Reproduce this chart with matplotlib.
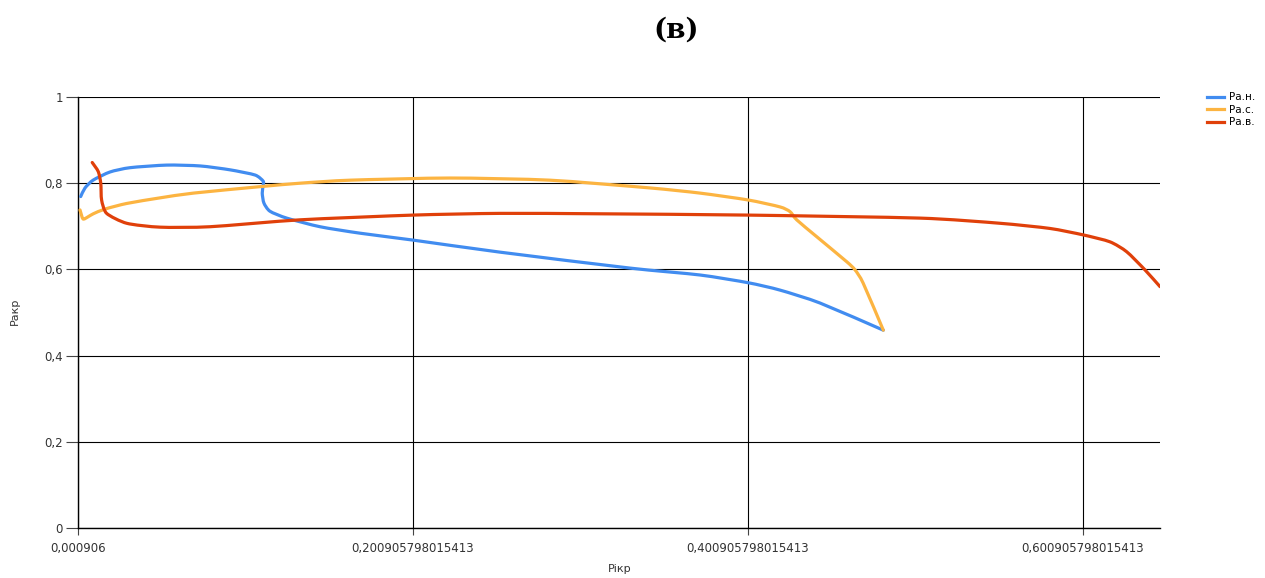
import matplotlib
matplotlib.use("Agg")
import matplotlib.pyplot as plt
import numpy as np
from matplotlib.path import Path
from matplotlib.patches import PathPatch
from matplotlib.lines import Line2D
from matplotlib.ticker import FixedLocator, FixedFormatter

# Series: critical ratio curves
blue_x = [0.0025, 0.0051, 0.0099, 0.0200, 0.0320, 0.0539, 0.0739, 0.0917, 0.1066,
          0.1114, 0.1115, 0.1109, 0.1119, 0.1155, 0.1255, 0.1454, 0.1693, 0.2009,
          0.2529, 0.3305, 0.3723, 0.4011, 0.4200, 0.4439, 0.4817]
blue_y = [0.769, 0.789, 0.807, 0.826, 0.836, 0.842, 0.840, 0.831, 0.819,
          0.805, 0.796, 0.777, 0.754, 0.735, 0.719, 0.699, 0.684, 0.668,
          0.640, 0.603, 0.587, 0.569, 0.552, 0.522, 0.459]

orange_x = [0.0021, 0.0039, 0.0069, 0.0100, 0.0170, 0.0300, 0.0499, 0.0698, 0.1096,
            0.1334, 0.1633, 0.2230, 0.2827, 0.3424, 0.3723, 0.4011, 0.4200, 0.4260,
            0.4300, 0.4419, 0.4598, 0.4648, 0.4697, 0.4817]
orange_y = [0.738, 0.717, 0.722, 0.729, 0.740, 0.753, 0.766, 0.777, 0.792,
            0.800, 0.807, 0.812, 0.807, 0.789, 0.777, 0.761, 0.745, 0.734,
            0.715, 0.676, 0.618, 0.599, 0.568, 0.459]

red_x = [0.0094, 0.0130, 0.0145, 0.0150, 0.0180, 0.0300, 0.0499, 0.0797, 0.1334,
         0.2009, 0.2529, 0.3126, 0.4009, 0.5036, 0.5514, 0.5812, 0.6011, 0.6170,
         0.6270, 0.6379, 0.6469]
red_y = [0.848, 0.827, 0.800, 0.761, 0.730, 0.707, 0.698, 0.699, 0.715,
         0.726, 0.730, 0.729, 0.726, 0.719, 0.707, 0.695, 0.680, 0.664,
         0.641, 0.599, 0.560]

series_names = ["Ра.н.", "Ра.с.", "Ра.в."]
series_colors = ["#418CF0", "#FCB441", "#E0400A"]

x_ticks = [0.000906, 0.200905798015413, 0.400905798015413, 0.600905798015413]
x_tick_labels = ["0,000906", "0,200905798015413", "0,400905798015413", "0,600905798015413"]
y_ticks = [0, 0.2, 0.4, 0.6, 0.8, 1]
y_tick_labels = ["0", "0,2", "0,4", "0,6", "0,8", "1"]


def spline_path(xs, ys, tension=0.35):
    """Cardinal spline through the data points as cubic Bezier segments."""
    pts = np.column_stack([xs, ys]).astype(float)
    n = len(pts)
    verts = [pts[0]]
    codes = [Path.MOVETO]
    for i in range(n - 1):
        p0 = pts[i - 1] if i > 0 else pts[i]
        p1 = pts[i]
        p2 = pts[i + 1]
        p3 = pts[i + 2] if i + 2 < n else pts[i + 1]
        c1 = p1 + (p2 - p0) * tension / 3.0
        c2 = p2 - (p3 - p1) * tension / 3.0
        verts.extend([c1, c2, p2])
        codes.extend([Path.CURVE4] * 3)
    return Path(verts, codes)


fig = plt.figure(figsize=(12.65, 5.78), dpi=100)
ax = fig.add_axes([78 / 1265, 1 - 528 / 578, (1160 - 78) / 1265, (528 - 97) / 578])

handles = []
for xs, ys, name, col in zip([blue_x, orange_x, red_x], [blue_y, orange_y, red_y],
                             series_names, series_colors):
    patch = PathPatch(spline_path(xs, ys), facecolor="none", edgecolor=col, lw=2.3,
                      capstyle="round", joinstyle="round", zorder=3)
    ax.add_patch(patch)
    handles.append(Line2D([], [], color=col, lw=2.3, label=name))

ax.set_xlim(0.000906, 0.6469)
ax.set_ylim(0, 1)
ax.xaxis.set_major_locator(FixedLocator(x_ticks))
ax.xaxis.set_major_formatter(FixedFormatter(x_tick_labels))
ax.yaxis.set_major_locator(FixedLocator(y_ticks))
ax.yaxis.set_major_formatter(FixedFormatter(y_tick_labels))

ax.grid(True, color="black", lw=0.8, zorder=1)
for side in ["top", "right"]:
    ax.spines[side].set_visible(False)
for side in ["left", "bottom"]:
    ax.spines[side].set_color("black")
    ax.spines[side].set_linewidth(1.0)

ax.tick_params(axis="y", length=9, width=0.8, color="#444444", labelsize=8.5,
               labelcolor="#333333", pad=2)
ax.tick_params(axis="x", length=5, width=0.8, color="#444444", labelsize=8.5,
               labelcolor="#333333", pad=5)

fig.text(620 / 1265, 1 - 569 / 578, "Рікр", fontsize=8, color="#333333",
         ha="center", va="center")
fig.text(15 / 1265, 1 - 311 / 578, "Ракр", fontsize=8, color="#333333",
         ha="center", va="center", rotation=90)

fig.text(676 / 1265, 1 - 30 / 578, "(в)", fontsize=20, fontweight="bold",
         family="DejaVu Serif", ha="center", va="center")

fig.legend(handles=handles, loc="upper left", bbox_to_anchor=(1203 / 1265, 1 - 88 / 578),
           frameon=False, fontsize=7.5, handlelength=1.6, handletextpad=0.5,
           labelspacing=0.25, borderaxespad=0)

fig.savefig("out.png", dpi=100)
